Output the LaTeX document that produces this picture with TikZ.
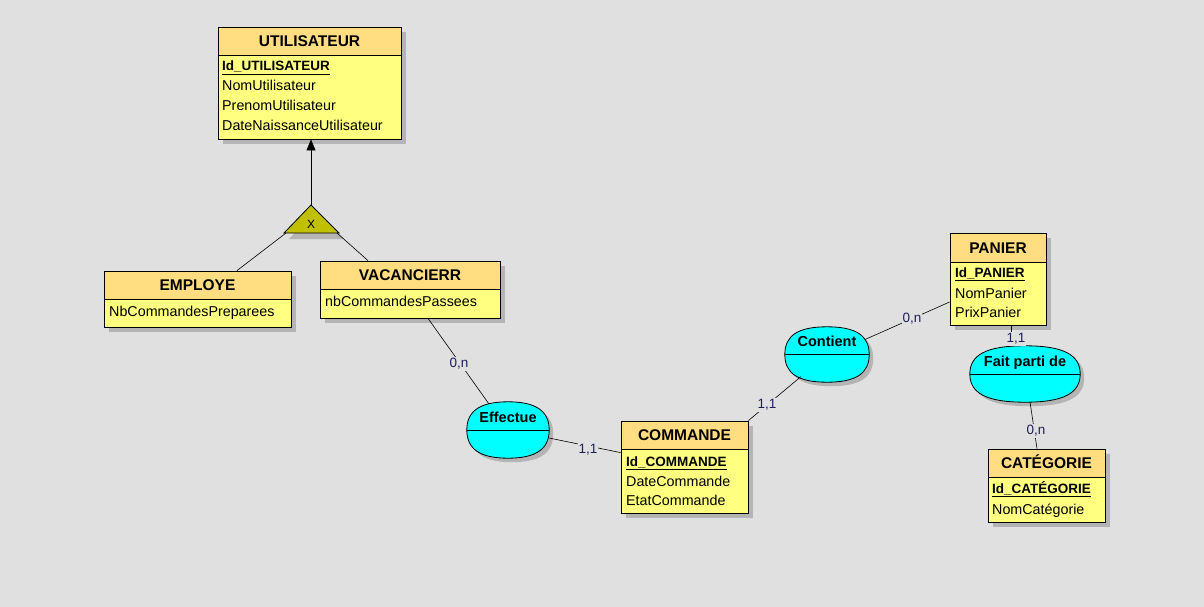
\documentclass[tikz,border=0pt]{standalone}
\usepackage{fontspec}
\setmainfont{Liberation Sans}
\usetikzlibrary{calc,shadows,arrows.meta}
\definecolor{bgc}{RGB}{224,224,224}
\definecolor{headc}{RGB}{255,221,128}
\definecolor{bodyc}{RGB}{255,255,128}
\definecolor{relc}{RGB}{0,255,255}
\definecolor{isac}{RGB}{192,192,0}
\definecolor{shadc}{RGB}{180,180,180}
\definecolor{cardc}{RGB}{30,30,90}
\tikzset{
  shad/.style={drop shadow={shadow xshift=5pt,shadow yshift=-5pt,fill=shadc,opacity=1}},
  ehead/.style={draw=black,line width=0.8pt,fill=headc,shad,inner sep=0pt,
    font=\fontsize{15.5}{18}\selectfont\bfseries,text height=11pt,text depth=0pt},
  ebody/.style={draw=black,line width=0.8pt,fill=bodyc,shad,inner sep=0pt},
  idrow/.style={anchor=base west,inner sep=0pt,font=\fontsize{13.5}{16}\selectfont\bfseries},
  attr/.style={anchor=base west,inner sep=0pt,font=\fontsize{14.3}{16}\selectfont},
  relnode/.style={inner sep=0pt},
  reltitle/.style={anchor=base,inner sep=0pt,font=\fontsize{14.5}{16}\selectfont\bfseries},
  card/.style={font=\fontsize{13.5}{15}\selectfont,text=cardc,fill=bgc,inner sep=1pt},
  link/.style={draw=black,line width=0.6pt}
}
% rounded (super-elliptic) relationship outline around node #1
\newcommand\relshape[3]{%
  \path[fill=shadc,transform canvas={xshift=4pt,yshift=-4pt}]
    (#1.west) .. controls ([yshift=#3pt]#1.west) and ([xshift=-#2pt]#1.north) .. (#1.north)
    .. controls ([xshift=#2pt]#1.north) and ([yshift=#3pt]#1.east) .. (#1.east)
    .. controls ([yshift=-#3pt]#1.east) and ([xshift=#2pt]#1.south) .. (#1.south)
    .. controls ([xshift=-#2pt]#1.south) and ([yshift=-#3pt]#1.west) .. (#1.west) -- cycle;
  \path[fill=relc,draw=black,line width=0.8pt]
    (#1.west) .. controls ([yshift=#3pt]#1.west) and ([xshift=-#2pt]#1.north) .. (#1.north)
    .. controls ([xshift=#2pt]#1.north) and ([yshift=#3pt]#1.east) .. (#1.east)
    .. controls ([yshift=-#3pt]#1.east) and ([xshift=#2pt]#1.south) .. (#1.south)
    .. controls ([xshift=-#2pt]#1.south) and ([yshift=-#3pt]#1.west) .. (#1.west) -- cycle;
  \draw[line width=0.8pt] (#1.west) -- (#1.east);
}
\begin{document}
\begin{tikzpicture}[x=1pt,y=-1pt]
\useasboundingbox[fill=bgc] (0,0) rectangle (1204,607);

% ---------- UTILISATEUR ----------
\node[ehead,minimum width=183pt,minimum height=28pt] (utilh) at (309.5,41) {UTILISATEUR};
\node[ebody,minimum width=183pt,minimum height=84pt] (utilb) at (309.5,97) {};
\node[idrow] (u1) at (222,71) {\underline{Id\_UTILISATEUR}};
\node[attr] (u2) at (222,91) {NomUtilisateur};
\node[attr] (u3) at (222,111) {PrenomUtilisateur};
\node[attr] (u4) at (222,131) {DateNaissanceUtilisateur};

% ---------- EMPLOYE ----------
\node[ehead,minimum width=187pt,minimum height=28pt] (emph) at (197.5,285) {EMPLOYE};
\node[ebody,minimum width=187pt,minimum height=28pt] (empb) at (197.5,313) {};
\node[attr] (e1) at (109,316) {NbCommandesPreparees};

% ---------- VACANCIERR ----------
\node[ehead,minimum width=180pt,minimum height=28pt] (vach) at (410,275) {VACANCIERR};
\node[ebody,minimum width=180pt,minimum height=29pt] (vacb) at (410,303.5) {};
\node[attr] (v1) at (325,306) {nbCommandesPassees};

% ---------- COMMANDE ----------
\node[ehead,minimum width=127pt,minimum height=28pt] (comh) at (684.5,435) {COMMANDE};
\node[ebody,minimum width=127pt,minimum height=64pt] (comb) at (684.5,481) {};
\node[idrow] (c1) at (626,466) {\underline{Id\_COMMANDE}};
\node[attr] (c2) at (626,486) {DateCommande};
\node[attr] (c3) at (626,505) {EtatCommande};

% ---------- PANIER ----------
\node[ehead,minimum width=96pt,minimum height=29pt] (panh) at (998,247.5) {PANIER};
\node[ebody,minimum width=96pt,minimum height=63pt] (panb) at (998,293.5) {};
\node[idrow] (p1) at (955,277) {\underline{Id\_PANIER}};
\node[attr] (p2) at (955,298) {NomPanier};
\node[attr] (p3) at (955,317) {PrixPanier};

% ---------- CATEGORIE ----------
\node[ehead,minimum width=117pt,minimum height=28pt] (cath) at (1046.5,463) {CATÉGORIE};
\node[ebody,minimum width=117pt,minimum height=45pt] (catb) at (1046.5,499.5) {};
\node[idrow] (k1) at (992,493) {\underline{Id\_CATÉGORIE}};
\node[attr] (k2) at (992,514) {NomCatégorie};

% ---------- Relationships ----------
\node[relnode,minimum width=82pt,minimum height=56pt] (eff) at (508,430) {};
\relshape{eff}{28}{19}
\node[reltitle] (efft) at (508,422) {Effectue};

\node[relnode,minimum width=84pt,minimum height=55pt] (cont) at (827,354.5) {};
\relshape{cont}{29}{19}
\node[reltitle] (contt) at (827,346) {Contient};

\node[relnode,minimum width=110pt,minimum height=56pt] (fait) at (1025,374) {};
\relshape{fait}{39}{19}
\node[reltitle] (faitt) at (1025,366) {Fait parti de};

% ---------- Inheritance triangle ----------
\coordinate (isaapex) at (311,205);
\coordinate (isal) at (284,233);
\coordinate (isar) at (339,233);
\fill[shadc] ($(isaapex)+(5,6)$) -- ($(isar)+(5,6)$) -- ($(isal)+(5,6)$) -- cycle;
\filldraw[fill=isac,draw=black,line width=0.8pt] (isaapex) -- (isar) -- (isal) -- cycle;
\node[inner sep=0pt,font=\fontsize{12}{14}\selectfont] (isax) at (311,224) {X};
\draw[link,-{Triangle[length=11pt,width=9pt]}] (isaapex) -- (isaapex |- utilb.south);
\draw[link] ($(isal)+(2,0)$) -- ($(emph.north)+(39.5,0)$);
\draw[link] ($(isar)+(-2,0)$) -- ($(vach.north)+(-42,0)$);

% ---------- Links ----------
\draw[link] ($(vacb.south)+(18,0)$) -- ($(eff.center)+(-19,-26)$);
\draw[link] ($(eff.center)+(41,8)$) -- ($(comb.north west)+(0,4)$);
\draw[link] (comh.north east) -- ($(cont.center)+(-26,22)$);
\draw[link] ($(cont.center)+(38,-15)$) -- ($(panb.west)+(0,8.5)$);
\draw[link] ($(panb.south)+(13,0)$) -- ($(fait.center)+(-14,-28)$);
\draw[link] ($(fait.center)+(5,28)$) -- ($(cath.north)+(-9.5,0)$);

% ---------- Cardinalities ----------
\node[card] (l1) at (459,364) {0,n};
\node[card] (l2) at (588,450) {1,1};
\node[card] (l3) at (767,405) {1,1};
\node[card] (l4) at (912,319) {0,n};
\node[card] (l5) at (1016,339) {1,1};
\node[card] (l6) at (1036,431) {0,n};
\end{tikzpicture}
\end{document}
